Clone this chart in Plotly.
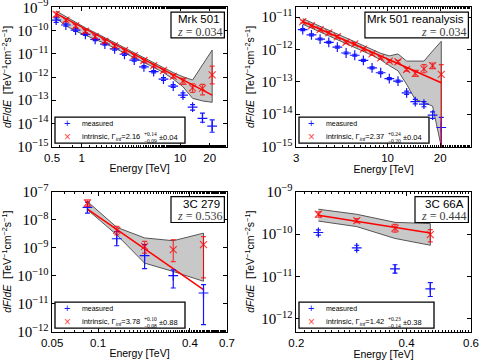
import math
import plotly.graph_objects as go

# ---------------- Panel 1: Mrk 501 (z = 0.034) ----------------
mrk_energy = [0.55, 0.69, 0.867, 1.09, 1.37, 1.72, 2.16, 2.72, 3.42, 4.29, 5.39, 6.78, 8.52, 10.7, 13.4, 16.9, 21.2]
mrk_meas_log = [-9.55, -9.76, -9.98, -10.16, -10.38, -10.58, -10.79, -11.02, -11.27, -11.56, -11.77, -12.09, -12.39, -12.78, -13.30, -13.78, -14.12]
mrk_meas_hi = [-9.45, -9.71, -9.93, -10.11, -10.33, -10.53, -10.74, -10.97, -11.22, -11.51, -11.72, -12.03, -12.33, -12.68, -13.19, -13.56, -13.85]
mrk_meas_lo = [-9.65, -9.81, -10.03, -10.21, -10.43, -10.63, -10.84, -11.07, -11.32, -11.61, -11.82, -12.15, -12.45, -12.88, -13.43, -13.95, -14.38]
mrk_intr_log = [-9.30, -9.55, -9.80, -10.03, -10.26, -10.46, -10.66, -10.86, -11.08, -11.29, -11.51, -11.72, -11.97, -12.18, -12.47, -12.49, -11.91]
mrk_intr_hi = [-9.20, -9.48, -9.73, -9.96, -10.19, -10.39, -10.59, -10.79, -11.01, -11.22, -11.44, -11.65, -11.89, -12.06, -12.29, -12.32, -11.53]
mrk_intr_lo = [-9.40, -9.62, -9.87, -10.10, -10.33, -10.53, -10.73, -10.93, -11.15, -11.36, -11.58, -11.79, -12.05, -12.32, -12.66, -12.77, -12.30]
mrk_band_hi = [-9.16, -9.40, -9.65, -9.88, -10.09, -10.31, -10.52, -10.74, -10.95, -11.17, -11.38, -11.60, -11.81, -11.99, -12.13, -11.50, -10.84]
mrk_band_lo = [-9.47, -9.79, -10.02, -10.19, -10.38, -10.55, -10.74, -10.94, -11.15, -11.37, -11.58, -11.81, -12.09, -12.42, -12.92, -13.03, -13.09]
mrk_fit_energy = [0.55, 21.2]
mrk_fit_log = [-9.27, -12.78]

# ---------------- Panel 2: Mrk 501 reanalysis (z = 0.034) ----------------
mrkr_energy = [3.27, 3.67, 4.11, 4.61, 5.16, 5.79, 6.49, 7.27, 8.15, 9.13, 10.23, 11.47, 12.85, 14.4, 16.14, 18.09, 20.28]
mrkr_meas_log = [-11.39, -11.55, -11.68, -11.78, -11.93, -12.11, -12.18, -12.34, -12.57, -12.72, -12.90, -12.98, -13.34, -13.61, -13.69, -14.03, -14.41]
mrkr_meas_hi = [-11.36, -11.52, -11.65, -11.75, -11.90, -12.08, -12.15, -12.31, -12.54, -12.69, -12.87, -12.95, -13.29, -13.54, -13.61, -13.93, -14.10]
mrkr_meas_lo = [-11.42, -11.58, -11.71, -11.81, -11.96, -12.14, -12.21, -12.37, -12.60, -12.75, -12.93, -13.01, -13.39, -13.68, -13.77, -14.13, -15.50]
mrkr_intr_log = [-11.14, -11.27, -11.39, -11.49, -11.61, -11.78, -11.83, -11.99, -12.14, -12.26, -12.36, -12.38, -12.62, -12.74, -12.60, -12.50, -12.77]
mrkr_intr_hi = [-11.10, -11.23, -11.35, -11.45, -11.57, -11.74, -11.79, -11.95, -12.10, -12.22, -12.32, -12.34, -12.57, -12.65, -12.47, -12.42, -12.47]
mrkr_intr_lo = [-11.18, -11.31, -11.43, -11.53, -11.65, -11.82, -11.87, -12.03, -12.18, -12.30, -12.40, -12.42, -12.67, -12.83, -12.72, -12.59, -15.30]
mrkr_band_hi = [-11.05, -11.17, -11.29, -11.40, -11.52, -11.66, -11.76, -11.88, -12.00, -12.12, -12.20, -12.14, -12.36, -12.36, -12.36, -12.05, -11.75]
mrkr_band_lo = [-11.22, -11.34, -11.46, -11.58, -11.70, -11.82, -11.94, -12.06, -12.18, -12.32, -12.50, -12.66, -13.08, -13.55, -13.64, -13.75, -15.00]
mrkr_fit_energy = [3.27, 20.28]
mrkr_fit_log = [-11.14, -13.03]

# ---------------- Panel 3: 3C 279 (z = 0.536) ----------------
c279_energy = [0.0852, 0.1325, 0.2018, 0.311, 0.491]
c279_meas_log = [-7.56, -8.68, -9.28, -10.00, -10.62]
c279_meas_hi = [-7.37, -8.42, -8.89, -9.79, -10.32]
c279_meas_lo = [-7.76, -8.93, -9.75, -10.44, -11.75]
c279_intr_log = [-7.40, -8.38, -8.95, -9.07, -8.89]
c279_intr_hi = [-7.29, -8.24, -8.77, -8.71, -8.60]
c279_intr_lo = [-7.52, -8.54, -9.19, -9.50, -10.08]
c279_band_hi = [-7.35, -8.27, -8.65, -8.75, -8.48]
c279_band_lo = [-7.64, -8.54, -9.55, -9.85, -10.20]
c279_fit_energy = [0.0852, 0.491]
c279_fit_log = [-7.62, -10.50]

# ---------------- Panel 4: 3C 66A (z = 0.444) ----------------
c66_energy = [0.2297, 0.2924, 0.372, 0.4645]
c66_meas_log = [-9.96, -10.32, -10.82, -11.29]
c66_meas_hi = [-9.90, -10.26, -10.72, -11.14]
c66_meas_lo = [-10.02, -10.38, -10.92, -11.47]
c66_intr_log = [-9.53, -9.68, -9.86, -10.01]
c66_intr_hi = [-9.47, -9.63, -9.77, -9.89]
c66_intr_lo = [-9.60, -9.73, -9.95, -10.18]
c66_band_hi = [-9.41, -9.53, -9.72, -9.75]
c66_band_lo = [-9.69, -9.82, -10.10, -10.26]
c66_fit_energy = [0.2297, 0.4645]
c66_fit_log = [-9.55, -9.97]

# tick labels / text
names = ["Mrk 501", "Mrk 501 reanalysis", "3C 279", "3C 66A"]
redshifts = ["0.034", "0.034", "0.536", "0.444"]
gamma_values = ["2.16", "2.37", "3.78", "1.42"]
gamma_plus = ["+0.14", "+0.24", "+0.10", "+0.23"]
gamma_minus = ["−0.09", "−0.20", "−0.08", "−0.14"]
gamma_sys = ["0.04", "0.04", "0.88", "0.38"]
x_tickvals = [[0.5, 1, 10, 20], [3, 10, 20], [0.05, 0.1, 0.4, 0.7], [0.2, 0.4, 0.6]]
x_ticktext = [["0.5", "1", "10", "20"], ["3", "10", "20"], ["0.05", "0.1", "0.4", "0.7"], ["0.2", "0.4", "0.6"]]
x_ranges = [[0.5, 30], [3, 30], [0.05, 0.7], [0.2, 0.6]]
y_ranges_log = [[-15.003, -8.997], [-15.003, -10.7], [-12.003, -6.997], [-12.3, -8.997]]

panels = [
    dict(E=mrk_energy, m=mrk_meas_log, mh=mrk_meas_hi, ml=mrk_meas_lo, i=mrk_intr_log, ih=mrk_intr_hi, il=mrk_intr_lo,
         bh=mrk_band_hi, bl=mrk_band_lo, fe=mrk_fit_energy, fl=mrk_fit_log),
    dict(E=mrkr_energy, m=mrkr_meas_log, mh=mrkr_meas_hi, ml=mrkr_meas_lo, i=mrkr_intr_log, ih=mrkr_intr_hi, il=mrkr_intr_lo,
         bh=mrkr_band_hi, bl=mrkr_band_lo, fe=mrkr_fit_energy, fl=mrkr_fit_log),
    dict(E=c279_energy, m=c279_meas_log, mh=c279_meas_hi, ml=c279_meas_lo, i=c279_intr_log, ih=c279_intr_hi, il=c279_intr_lo,
         bh=c279_band_hi, bl=c279_band_lo, fe=c279_fit_energy, fl=c279_fit_log),
    dict(E=c66_energy, m=c66_meas_log, mh=c66_meas_hi, ml=c66_meas_lo, i=c66_intr_log, ih=c66_intr_hi, il=c66_intr_lo,
         bh=c66_band_hi, bl=c66_band_lo, fe=c66_fit_energy, fl=c66_fit_log),
]

W, H = 480, 361
# axes boxes in pixels: (left, right, top, bottom)
boxes = [(52, 227, 7.3, 146.7), (296, 471, 7.3, 146.7), (52, 227, 191.7, 331.7), (296, 471, 191.7, 331.7)]
legend_widths = [130, 130, 130, 135]

BLUE = "rgb(20,20,255)"
RED = "rgba(255,0,0,0.75)"
SANS = "Liberation Sans, Arial, sans-serif"
SERIF = "Liberation Serif, DejaVu Serif, serif"

fig = go.Figure()
shapes, annotations = [], []
layout = dict(template="none", width=W, height=H, margin=dict(l=0, r=0, t=0, b=0, autoexpand=False),
              paper_bgcolor="white", plot_bgcolor="white", showlegend=False)


def pw(v):
    return [10 ** a for a in v]


def px(x):
    return x / W


def py(y):
    return 1 - y / H


for k, p in enumerate(panels):
    n = k + 1
    xa = "x" if n == 1 else f"x{n}"
    ya = "y" if n == 1 else f"y{n}"
    E = p["E"]
    # uncertainty band
    fig.add_trace(go.Scatter(x=E + E[::-1], y=pw(p["bh"]) + pw(p["bl"])[::-1], fill="toself",
                             fillcolor="rgb(200,200,200)", line=dict(color="rgb(85,85,85)", width=1),
                             mode="lines", hoverinfo="skip", xaxis=xa, yaxis=ya))
    # power-law fit
    fig.add_trace(go.Scatter(x=p["fe"], y=pw(p["fl"]), mode="lines", line=dict(color="red", width=1.5),
                             xaxis=xa, yaxis=ya))
    m = pw(p["m"]); mh = pw(p["mh"]); ml = pw(p["ml"])
    fig.add_trace(go.Scatter(x=E, y=m, mode="markers", name="measured",
                             marker=dict(symbol="cross-thin", size=7, line=dict(color=BLUE, width=1.2), color=BLUE),
                             error_y=dict(type="data", symmetric=False, array=[a - b for a, b in zip(mh, m)],
                                          arrayminus=[b - a for a, b in zip(ml, m)], color=BLUE, thickness=1.2, width=2.5),
                             xaxis=xa, yaxis=ya))
    iv = pw(p["i"]); ih = pw(p["ih"]); il = pw(p["il"])
    fig.add_trace(go.Scatter(x=E, y=iv, mode="markers", name="intrinsic",
                             marker=dict(symbol="x-thin", size=7, line=dict(color=RED, width=1.2), color=RED),
                             error_y=dict(type="data", symmetric=False, array=[a - b for a, b in zip(ih, iv)],
                                          arrayminus=[b - a for a, b in zip(il, iv)], color=RED, thickness=1.2, width=2.5),
                             xaxis=xa, yaxis=ya))

    L, R, T, B = boxes[k]
    xr = x_ranges[k]
    axcommon = dict(showline=True, linecolor="black", linewidth=1, mirror="allticks", ticks="inside",
                    ticklen=4, tickcolor="black", showgrid=False, zeroline=False, automargin=False,
                    ticklabeloverflow="allow")
    xkey = "xaxis" if n == 1 else f"xaxis{n}"
    ykey = "yaxis" if n == 1 else f"yaxis{n}"
    layout[xkey] = dict(axcommon, type="log", domain=[L / W, R / W], anchor=ya,
                        range=[math.log10(xr[0]) - 0.001, math.log10(xr[1])],
                        tickmode="array", tickvals=x_tickvals[k], ticktext=x_ticktext[k],
                        tickfont=dict(family=SANS, size=11.5, color="black"),
                        minor=dict(ticks="inside", ticklen=2, tickcolor="black", showgrid=False),
                        title=dict(text="Energy [TeV]", font=dict(family=SANS, size=10.5, color="black"), standoff=2))
    layout[ykey] = dict(axcommon, type="log", domain=[1 - B / H, 1 - T / H], anchor=xa, range=y_ranges_log[k],
                        tick0=0, dtick=1, exponentformat="power", showexponent="all",
                        tickfont=dict(family=SERIF, size=12, color="black"),
                        title=dict(text="<i>dF</i>/<i>dE</i>  [TeV<sup>−1</sup>cm<sup>−2</sup>s<sup>−1</sup>]",
                                   font=dict(family=SANS, size=10.5, color="black"), standoff=4))

    # ---- legend box (drawn by hand so it matches the compact original) ----
    lx0 = L + 3
    lx1 = lx0 + legend_widths[k]
    ly0 = B - 29.5
    ly1 = B - 3.5
    shapes.append(dict(type="rect", xref="paper", yref="paper", x0=px(lx0), x1=px(lx1), y0=py(ly1), y1=py(ly0),
                       line=dict(color="black", width=1.3), fillcolor="white", layer="above"))
    r1 = ly0 + 6
    r2 = ly0 + 20
    annotations.append(dict(xref="paper", yref="paper", x=px(lx0 + 12), y=py(r1), xanchor="center", yanchor="middle",
                            text="+", showarrow=False, font=dict(family=SANS, size=11, color=BLUE)))
    annotations.append(dict(xref="paper", yref="paper", x=px(lx0 + 25), y=py(r1), xanchor="left", yanchor="middle",
                            text="measured", showarrow=False, font=dict(family=SANS, size=7, color="black")))
    annotations.append(dict(xref="paper", yref="paper", x=px(lx0 + 12), y=py(r2), xanchor="center", yanchor="middle",
                            text="×", showarrow=False, font=dict(family=SANS, size=12, color=RED)))
    annotations.append(dict(xref="paper", yref="paper", x=px(lx0 + 25), y=py(r2), xanchor="left", yanchor="middle",
                            text=f"intrinsic, Γ<sub><i>int</i></sub>={gamma_values[k]}", showarrow=False,
                            font=dict(family=SANS, size=7.5, color="black")))
    annotations.append(dict(xref="paper", yref="paper", x=px(lx0 + 87), y=py(r2 - 3), xanchor="left", yanchor="middle",
                            text=gamma_plus[k], showarrow=False, font=dict(family=SERIF, size=5.5, color="black")))
    annotations.append(dict(xref="paper", yref="paper", x=px(lx0 + 87), y=py(r2 + 3.5), xanchor="left", yanchor="middle",
                            text=gamma_minus[k], showarrow=False, font=dict(family=SERIF, size=5.5, color="black")))
    annotations.append(dict(xref="paper", yref="paper", x=px(lx0 + 102), y=py(r2), xanchor="left", yanchor="middle",
                            text=f"±{gamma_sys[k]}", showarrow=False, font=dict(family=SANS, size=7.5, color="black")))

    # ---- name / redshift box ----
    bx0 = 0.68 if k != 1 else 0.394
    shapes.append(dict(type="rect", xref=f"{xa} domain", yref=f"{ya} domain",
                       x0=bx0, x1=0.985, y0=0.78, y1=0.965,
                       line=dict(color="black", width=1.2), fillcolor="white", layer="above"))
    annotations.append(dict(xref=f"{xa} domain", yref=f"{ya} domain", x=0.97, y=0.915,
                            xanchor="right", yanchor="middle", showarrow=False, text=names[k],
                            font=dict(family=SANS, size=11.5, color="black")))
    annotations.append(dict(xref=f"{xa} domain", yref=f"{ya} domain", x=0.985, y=0.825,
                            xanchor="right", yanchor="middle", showarrow=False,
                            text=f"<i>z</i> = {redshifts[k]}",
                            font=dict(family=SERIF, size=12, color="rgb(60,60,60)")))

layout["shapes"] = shapes
layout["annotations"] = annotations
fig.update_layout(**layout)
fig.write_html("out.html", config={"displayModeBar": False},
               post_script="document.body.style.margin='0px';")
